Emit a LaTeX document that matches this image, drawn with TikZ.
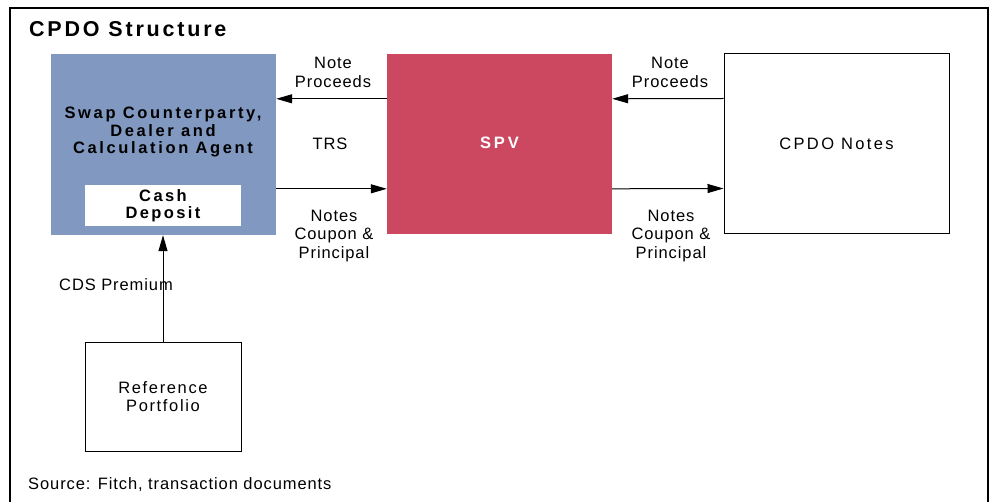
\documentclass[tikz,border=0pt]{standalone}
\usepackage{fontspec}
\setmainfont{Liberation Sans}
\usetikzlibrary{arrows.meta}
\definecolor{swapblue}{RGB}{129,152,193}
\definecolor{spvred}{RGB}{204,71,96}
\begin{document}
\begin{tikzpicture}[x=1pt,y=-1pt,
  txt/.style={font=\fontsize{16.5}{18.3}\selectfont\addfontfeature{LetterSpace=5.5},
              align=center, inner sep=0pt},
  boldtxt/.style={font=\fontsize{16.5}{17.2}\selectfont\bfseries\addfontfeature{LetterSpace=16},
              align=center, inner sep=0pt},
  box/.style={rectangle, inner sep=0pt},
  arr/.style={line width=1pt, -{Triangle[length=16pt,width=9pt]}}]
\useasboundingbox (0,0) rectangle (993,502);
% outer frame
\draw[line width=2pt] (10,503) |- (988,8) -- (988,503);
% title and source
\node[anchor=base west, inner sep=0pt,
      font=\fontsize{21.5}{24}\selectfont\bfseries\addfontfeature{LetterSpace=13}]
      (title) at (29,37) {CPDO Structure};
\node[txt, anchor=base west] (source) at (28,489) {Source: Fitch, transaction documents};
% boxes
\node[box, fill=swapblue, minimum width=225pt, minimum height=181pt] (swap) at (163.5,144.5) {};
\node[boldtxt] (swaptext) at (163,132) {Swap Counterparty,\\Dealer and\\Calculation Agent};
\node[box, fill=white, minimum width=156pt, minimum height=41pt, boldtxt,
      font=\fontsize{16.5}{17.5}\selectfont\bfseries\addfontfeature{LetterSpace=14.5}]
      (cash) at (163,205.5) {Cash\\Deposit};
\node[box, fill=spvred, minimum width=225pt, minimum height=180pt, text=white,
      text depth=3pt,
      font=\fontsize{16.5}{18}\selectfont\bfseries\addfontfeature{LetterSpace=18}]
      (spv) at (499.5,144) {SPV};
\node[box, draw, line width=1pt, minimum width=225pt, minimum height=180pt, txt,
      font=\fontsize{16.5}{18.3}\selectfont\addfontfeature{LetterSpace=14.5}]
      (cpdo) at (836.5,144) {CPDO Notes};
\node[box, draw, line width=1pt, minimum width=156pt, minimum height=108pt, txt,
      font=\fontsize{16.5}{18}\selectfont\addfontfeature{LetterSpace=10}]
      (ref) at (163,397) {Reference\\Portfolio};
% flows between the parties
\draw[arr] ([yshift=-45pt]spv.north west) -- ([yshift=-45pt]swap.north east);
\draw[arr] ([yshift=-135pt]swap.north east) -- ([yshift=-135pt]spv.north west);
\draw[arr] ([yshift=-45pt]cpdo.north west) -- ([yshift=-45pt]spv.north east);
\draw[arr] ([yshift=-135pt]spv.north east) -- ([yshift=-135pt]cpdo.north west);
\draw[arr] (ref.north) -- (ref.north |- swap.south);
% flow labels
\node[txt] (np1) at (333,72.5) {Note\\Proceeds};
\node[txt] (np2) at (670,72.5) {Note\\Proceeds};
\node[txt, anchor=base] (trs) at (330,150) {TRS};
\node[txt] (ncp1) at (334,236) {Notes\\Coupon \&\\Principal};
\node[txt] (ncp2) at (671,236) {Notes\\Coupon \&\\Principal};
\node[txt, anchor=base west] (cds) at (59,291) {CDS Premium};
\end{tikzpicture}
\end{document}
